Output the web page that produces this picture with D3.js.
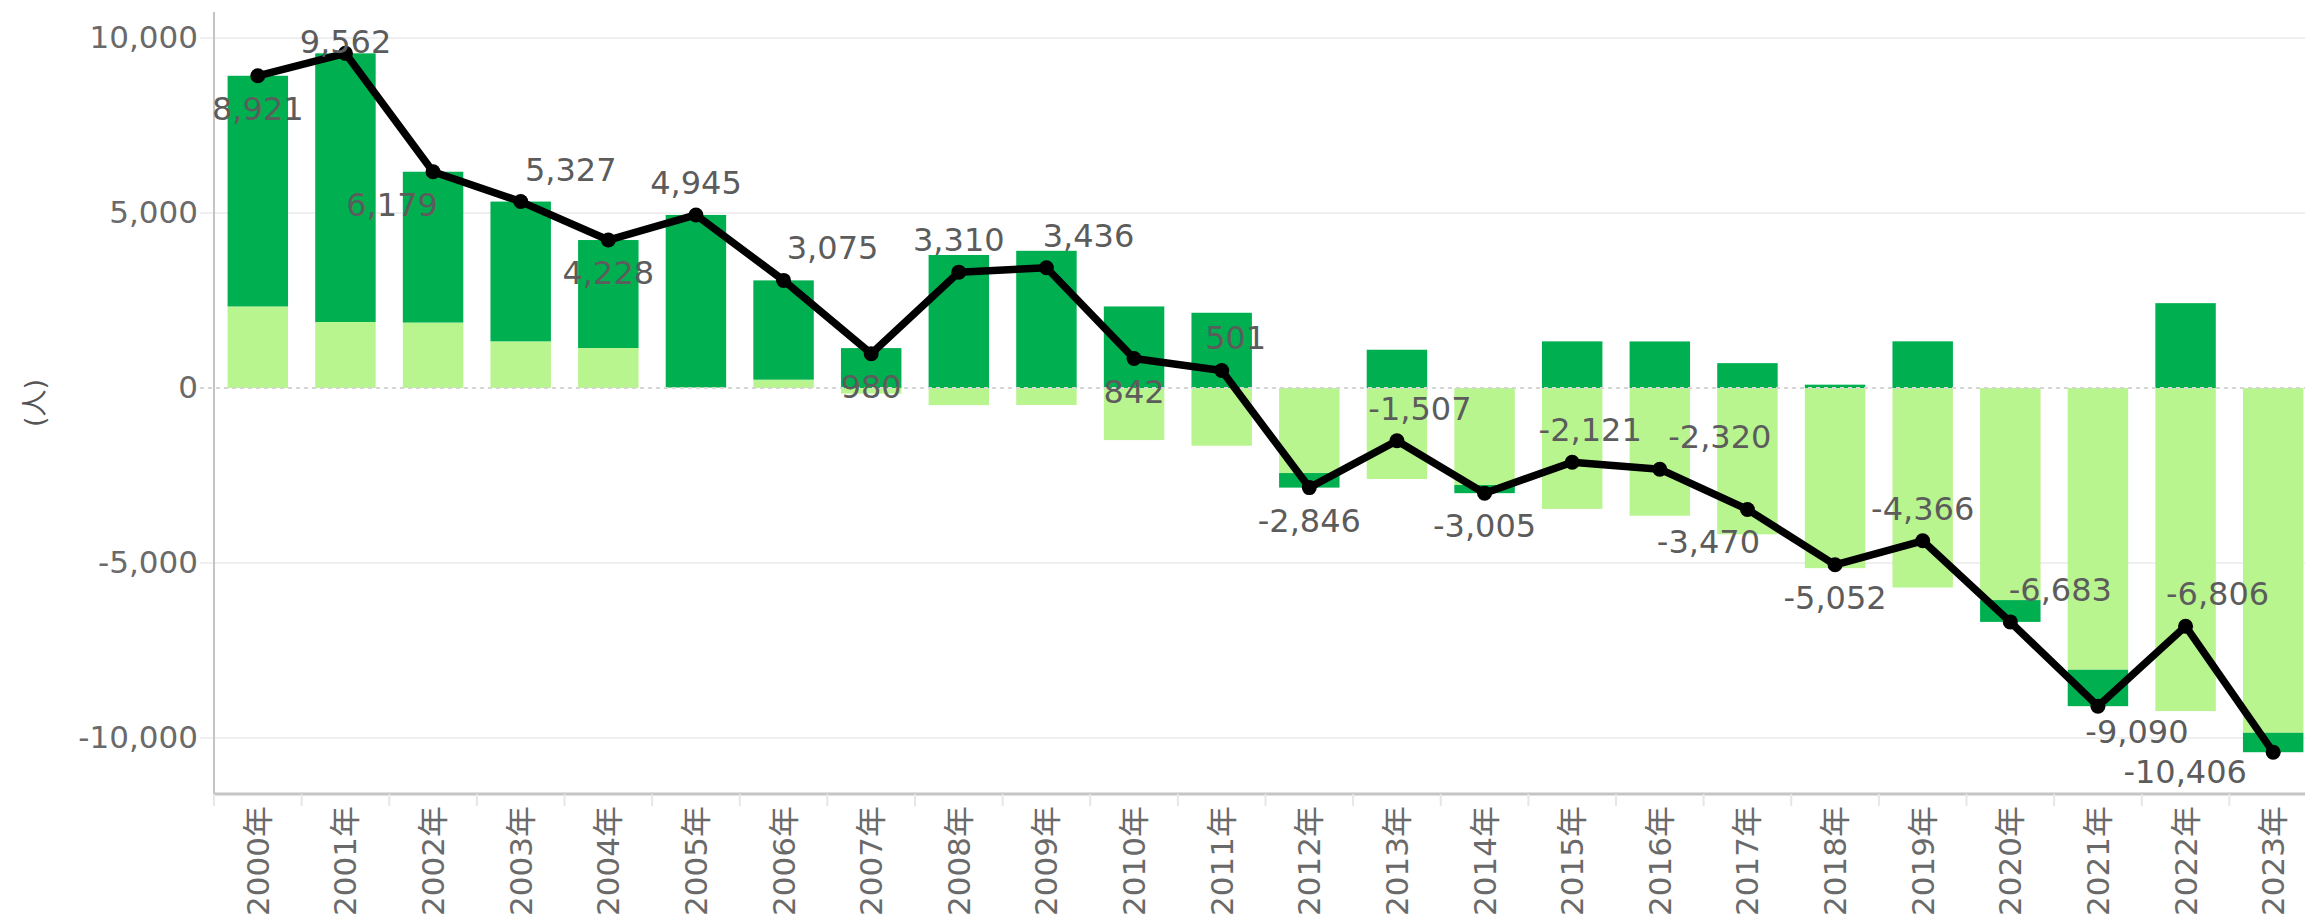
<!DOCTYPE html>
<html>
<head>
<meta charset="utf-8">
<script src="https://cdn.jsdelivr.net/npm/d3@7"></script>
<style>
  body { margin: 0; background: #fff; }
  svg { display: block; }
</style>
</head>
<body>
<div id="chart"></div>
<script>
// data
const years = ["2000年","2001年","2002年","2003年","2004年","2005年","2006年","2007年",
  "2008年","2009年","2010年","2011年","2012年","2013年","2014年","2015年",
  "2016年","2017年","2018年","2019年","2020年","2021年","2022年","2023年"];
// natural change (light green)
const natural = [2330, 1886, 1870, 1333, 1143, 16, 238, -160,
  -490, -484, -1488, -1649, -2430, -2600, -2771, -3454,
  -3650, -4180, -5147, -5700, -6060, -8050, -9230, -9850];
// social change (dark green)
const social = [6591, 7676, 4309, 3994, 3085, 4929, 2837, 1140,
  3800, 3920, 2330, 2150, -416, 1093, -234, 1333,
  1330, 710, 95, 1334, -623, -1040, 2424, -556];
// total (line)
const total = [8921, 9562, 6179, 5327, 4228, 4945, 3075, 980,
  3310, 3436, 842, 501, -2846, -1507, -3005, -2121,
  -2320, -3470, -5052, -4366, -6683, -9090, -6806, -10406];
const yTicks = [-10000, -5000, 0, 5000, 10000];

// label placement (1 = above, -1 = below) and horizontal nudges
const labelSide = [-1, 1, -1, 1, -1, 1, 1, -1, 1, 1, -1, 1,
  -1, 1, -1, 1, 1, -1, -1, 1, 1, -1, 1, -1];
const labelNudge = [0, 0, -41, 50, 0, 0, 49, 0, 0, 42, 0, 14,
  0, 23, 0, 18, 60, -39, 0, 0, 50, 39, 32, -88];

const W = 2305, H = 924;
const plot = { left: 214, right: 2317, top: 12, bottom: 794 };

const svg = d3.select("#chart").append("svg")
  .attr("width", W).attr("height", H);

const x = d3.scaleBand()
  .domain(years)
  .range([plot.left, plot.right])
  .paddingInner(0.31)
  .paddingOuter(0.155);

const y = d3.scaleLinear()
  .domain([-11600, 10743])
  .range([plot.bottom, plot.top]);

const font = "'DejaVu Sans', 'Noto Sans CJK JP', sans-serif";
const fmt = d3.formatLocale({ decimal: ".", thousands: ",", grouping: [3], currency: ["", ""], minus: "-" }).format(",");

// gridlines
svg.append("g")
  .selectAll("line")
  .data(yTicks.filter(d => d !== 0))
  .join("line")
  .attr("x1", plot.left - 14).attr("x2", W)
  .attr("y1", d => y(d)).attr("y2", d => y(d))
  .attr("stroke", "#efefef").attr("stroke-width", 2);

// stacked bars
const rows = years.map((yr, i) => ({ year: yr, natural: natural[i], social: social[i] }));
const stack = d3.stack()
  .keys(["natural", "social"])
  .offset(d3.stackOffsetDiverging);
const series = stack(rows);
const colors = { natural: "#b9f58f", social: "#00b050" };

svg.append("g")
  .selectAll("g")
  .data(series)
  .join("g")
  .attr("fill", d => colors[d.key])
  .selectAll("rect")
  .data(d => d)
  .join("rect")
  .attr("x", d => x(d.data.year))
  .attr("width", x.bandwidth())
  .attr("y", d => y(Math.max(d[0], d[1])))
  .attr("height", d => Math.abs(y(d[0]) - y(d[1])));

// zero line (dashed)
svg.append("line")
  .attr("x1", plot.left - 14).attr("x2", W)
  .attr("y1", y(0)).attr("y2", y(0))
  .attr("stroke", "#d6d6d6").attr("stroke-width", 2)
  .attr("stroke-dasharray", "4,4");

// y axis
const yAxis = svg.append("g")
  .attr("transform", `translate(${plot.left},0)`)
  .call(d3.axisLeft(y).tickValues(yTicks).tickSize(0).tickPadding(16)
    .tickFormat(fmt));
yAxis.select(".domain").remove();
yAxis.selectAll("text")
  .attr("font-family", font).attr("font-size", 31).attr("fill", "#6a6a6a");

svg.append("line")
  .attr("x1", plot.left).attr("x2", plot.left)
  .attr("y1", plot.top).attr("y2", plot.bottom)
  .attr("stroke", "#c4c4c4").attr("stroke-width", 2);

svg.append("text")
  .attr("transform", `translate(34,${(plot.top + plot.bottom) / 2}) rotate(-90)`)
  .attr("text-anchor", "middle")
  .attr("dominant-baseline", "central")
  .attr("font-family", font).attr("font-size", 27).attr("fill", "#555")
  .text("(人)");

// x axis
svg.append("line")
  .attr("x1", plot.left).attr("x2", W)
  .attr("y1", plot.bottom).attr("y2", plot.bottom)
  .attr("stroke", "#c4c4c4").attr("stroke-width", 3);

svg.append("g")
  .selectAll("line")
  .data(years)
  .join("line")
  .attr("x1", d => x(d) - x.step() * x.paddingInner() / 2)
  .attr("x2", d => x(d) - x.step() * x.paddingInner() / 2)
  .attr("y1", plot.bottom).attr("y2", plot.bottom + 12)
  .attr("stroke", "#e6e6e6").attr("stroke-width", 2);

svg.append("g")
  .selectAll("text")
  .data(years)
  .join("text")
  .attr("transform", d => `translate(${x(d) + x.bandwidth() / 2},${plot.bottom + 12}) rotate(-90)`)
  .attr("text-anchor", "end")
  .attr("dominant-baseline", "central")
  .attr("font-family", font).attr("font-size", 31).attr("fill", "#6a6a6a")
  .text(d => d);

// total line
const cx = i => x(years[i]) + x.bandwidth() / 2;
const line = d3.line()
  .x((d, i) => cx(i))
  .y(d => y(d));

svg.append("path")
  .datum(total)
  .attr("d", line)
  .attr("fill", "none")
  .attr("stroke", "#000")
  .attr("stroke-width", 7.5)
  .attr("stroke-linejoin", "round");

svg.append("g")
  .selectAll("circle")
  .data(total)
  .join("circle")
  .attr("cx", (d, i) => cx(i))
  .attr("cy", d => y(d))
  .attr("r", 7.5)
  .attr("fill", "#000");

// data labels
const labelDy = (d, i) => {
  if (i === 1) return -11;
  if (i === 23) return 20;
  if (i === 21) return 26;
  return labelSide[i] > 0 ? -32 : 33;
};

svg.append("g")
  .selectAll("text")
  .data(total)
  .join("text")
  .attr("x", (d, i) => cx(i) + labelNudge[i])
  .attr("y", (d, i) => y(d) + labelDy(d, i))
  .attr("text-anchor", "middle")
  .attr("dominant-baseline", "central")
  .attr("font-family", font).attr("font-size", 32).attr("fill", "#5c5c5c")
  .text(d => fmt(d));
</script>
</body>
</html>
